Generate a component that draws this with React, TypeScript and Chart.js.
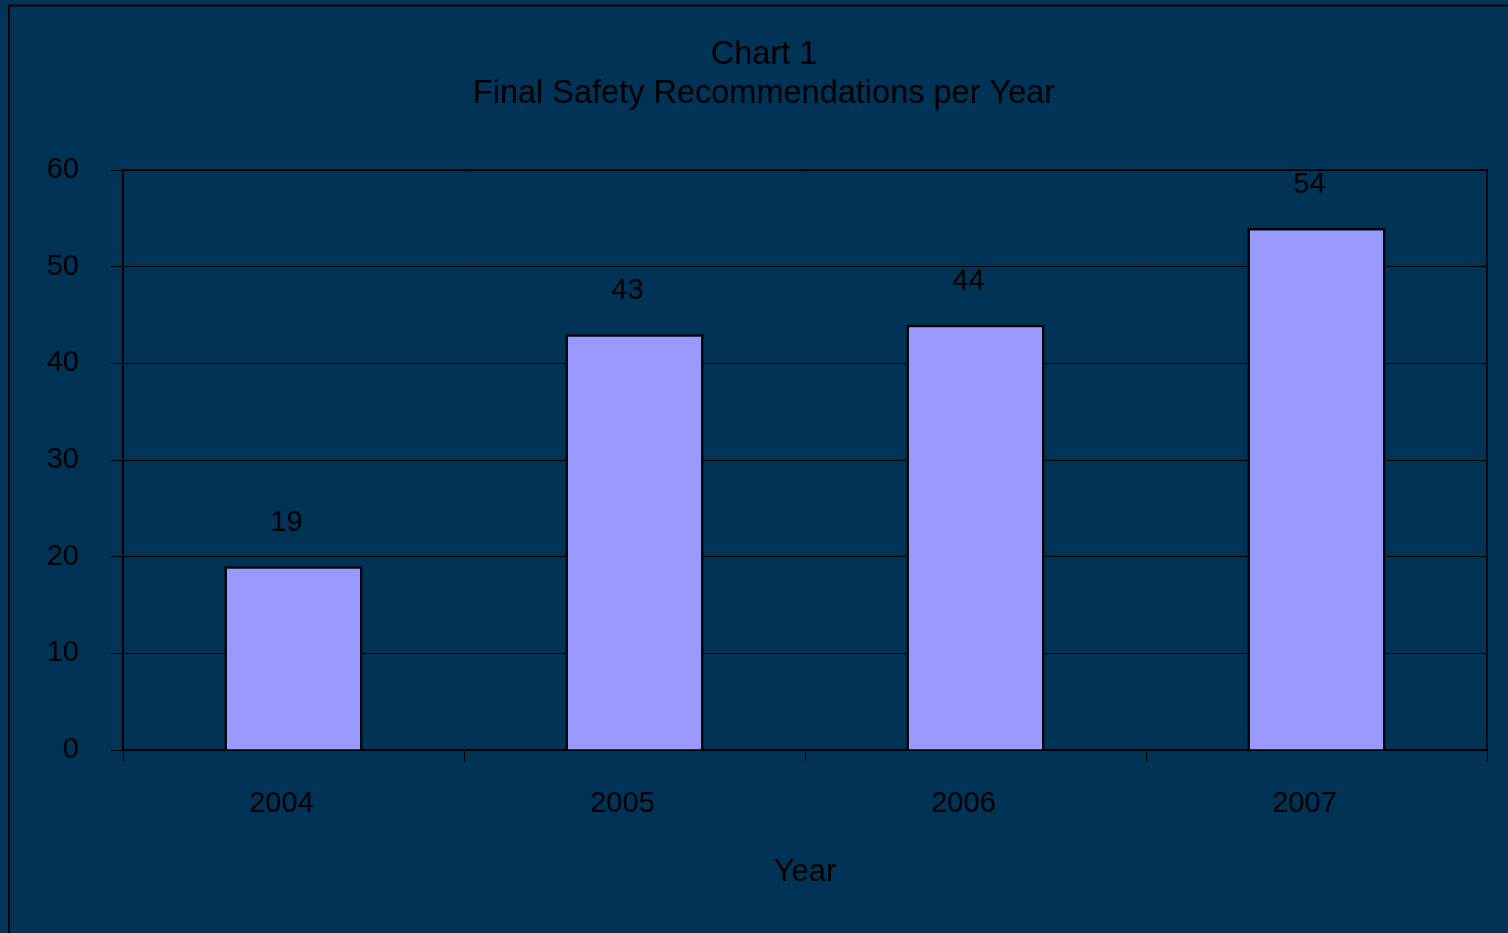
import React, { useEffect, useRef } from "react";
import { Chart, registerables } from "chart.js";

Chart.register(...registerables);

const categories = ["2004", "2005", "2006", "2007"];
const recommendations = [19, 43, 44, 54];
const titleLines = ["Chart 1", "Final Safety Recommendations per Year"];
const xAxisTitle = "Year";

const FONT = "'Liberation Sans', Arial, sans-serif";
const BG = "#003356";

const backgroundPlugin = {
  id: "bgPlugin",
  beforeDraw(chart: any) {
    const { ctx, width, height } = chart;
    ctx.save();
    ctx.fillStyle = BG;
    ctx.fillRect(0, 0, width, height);
    ctx.strokeStyle = "#000";
    ctx.lineWidth = 2;
    ctx.beginPath();
    ctx.moveTo(9, height + 5);
    ctx.lineTo(9, 5.5);
    ctx.lineTo(width + 5, 5.5);
    ctx.stroke();
    ctx.restore();
  },
  beforeDatasetsDraw(chart: any) {
    const { ctx, chartArea } = chart;
    ctx.save();
    ctx.strokeStyle = "#000";
    ctx.lineWidth = 1.5;
    ctx.strokeRect(chartArea.left, chartArea.top, chartArea.right - chartArea.left, chartArea.bottom - chartArea.top);
    ctx.restore();
  },
  afterDatasetsDraw(chart: any) {
    const { ctx } = chart;
    const meta = chart.getDatasetMeta(0);
    const data = chart.data.datasets[0].data;
    ctx.save();
    ctx.fillStyle = "#000";
    ctx.font = `29px ${FONT}`;
    ctx.textAlign = "center";
    ctx.textBaseline = "middle";
    meta.data.forEach((el: any, i: number) => {
      ctx.fillText(String(data[i]), el.x - 7, el.y - 43);
    });
    ctx.restore();
  },
};

export default function App() {
  const ref = useRef<HTMLCanvasElement | null>(null);
  useEffect(() => {
    if (!ref.current) return;
    const chart = new Chart(ref.current, {
      type: "bar",
      data: {
        labels: categories,
        datasets: [
          {
            label: "Final Safety Recommendations",
            data: recommendations,
            backgroundColor: "#9999ff",
            borderColor: "#000",
            borderWidth: 2.5,
            barPercentage: 0.405,
            categoryPercentage: 1,
          },
        ],
      },
      plugins: [backgroundPlugin],
      options: {
        animation: false,
        responsive: false,
        maintainAspectRatio: false,
        devicePixelRatio: 1,
        layout: { padding: { left: 41, right: 21, top: 0, bottom: 0 } },
        plugins: {
          legend: { display: false },
          tooltip: { enabled: false },
          title: {
            display: true,
            text: titleLines,
            color: "#000",
            font: { family: FONT, size: 32.5, weight: "normal", lineHeight: 1.2 },
            padding: { top: 36, bottom: 56 },
          },
        },
        scales: {
          x: {
            afterFit(scale: any) {
              scale.height = 183;
            },
            grid: {
              display: true,
              drawOnChartArea: false,
              drawTicks: true,
              tickLength: 12,
              color: "#000",
              offset: true,
            },
            border: { display: true, color: "#000", width: 1.5 },
            ticks: {
              color: "#000",
              font: { family: FONT, size: 29 },
              padding: 25,
              labelOffset: -12,
              maxRotation: 0,
            },
            title: {
              display: true,
              text: xAxisTitle,
              color: "#000",
              font: { family: FONT, size: 31, lineHeight: 1.2 },
              padding: { top: 0, bottom: 42 },
            },
          },
          y: {
            min: 0,
            max: 60,
            afterFit(scale: any) {
              scale.width = 82;
            },
            grid: {
              color: "#000",
              lineWidth: 1,
              drawTicks: true,
              tickLength: 12,
            },
            border: { display: true, color: "#000", width: 1.5 },
            ticks: {
              stepSize: 10,
              color: "#000",
              font: { family: FONT, size: 29 },
              padding: 32,
            },
          },
        },
      },
    });
    return () => chart.destroy();
  }, []);
  return (
    <div style={{ position: "fixed", left: 0, top: 0, width: 1508, height: 933, background: BG }}>
      <canvas ref={ref} width={1508} height={933} style={{ display: "block", width: 1508, height: 933 }} />
    </div>
  );
}
